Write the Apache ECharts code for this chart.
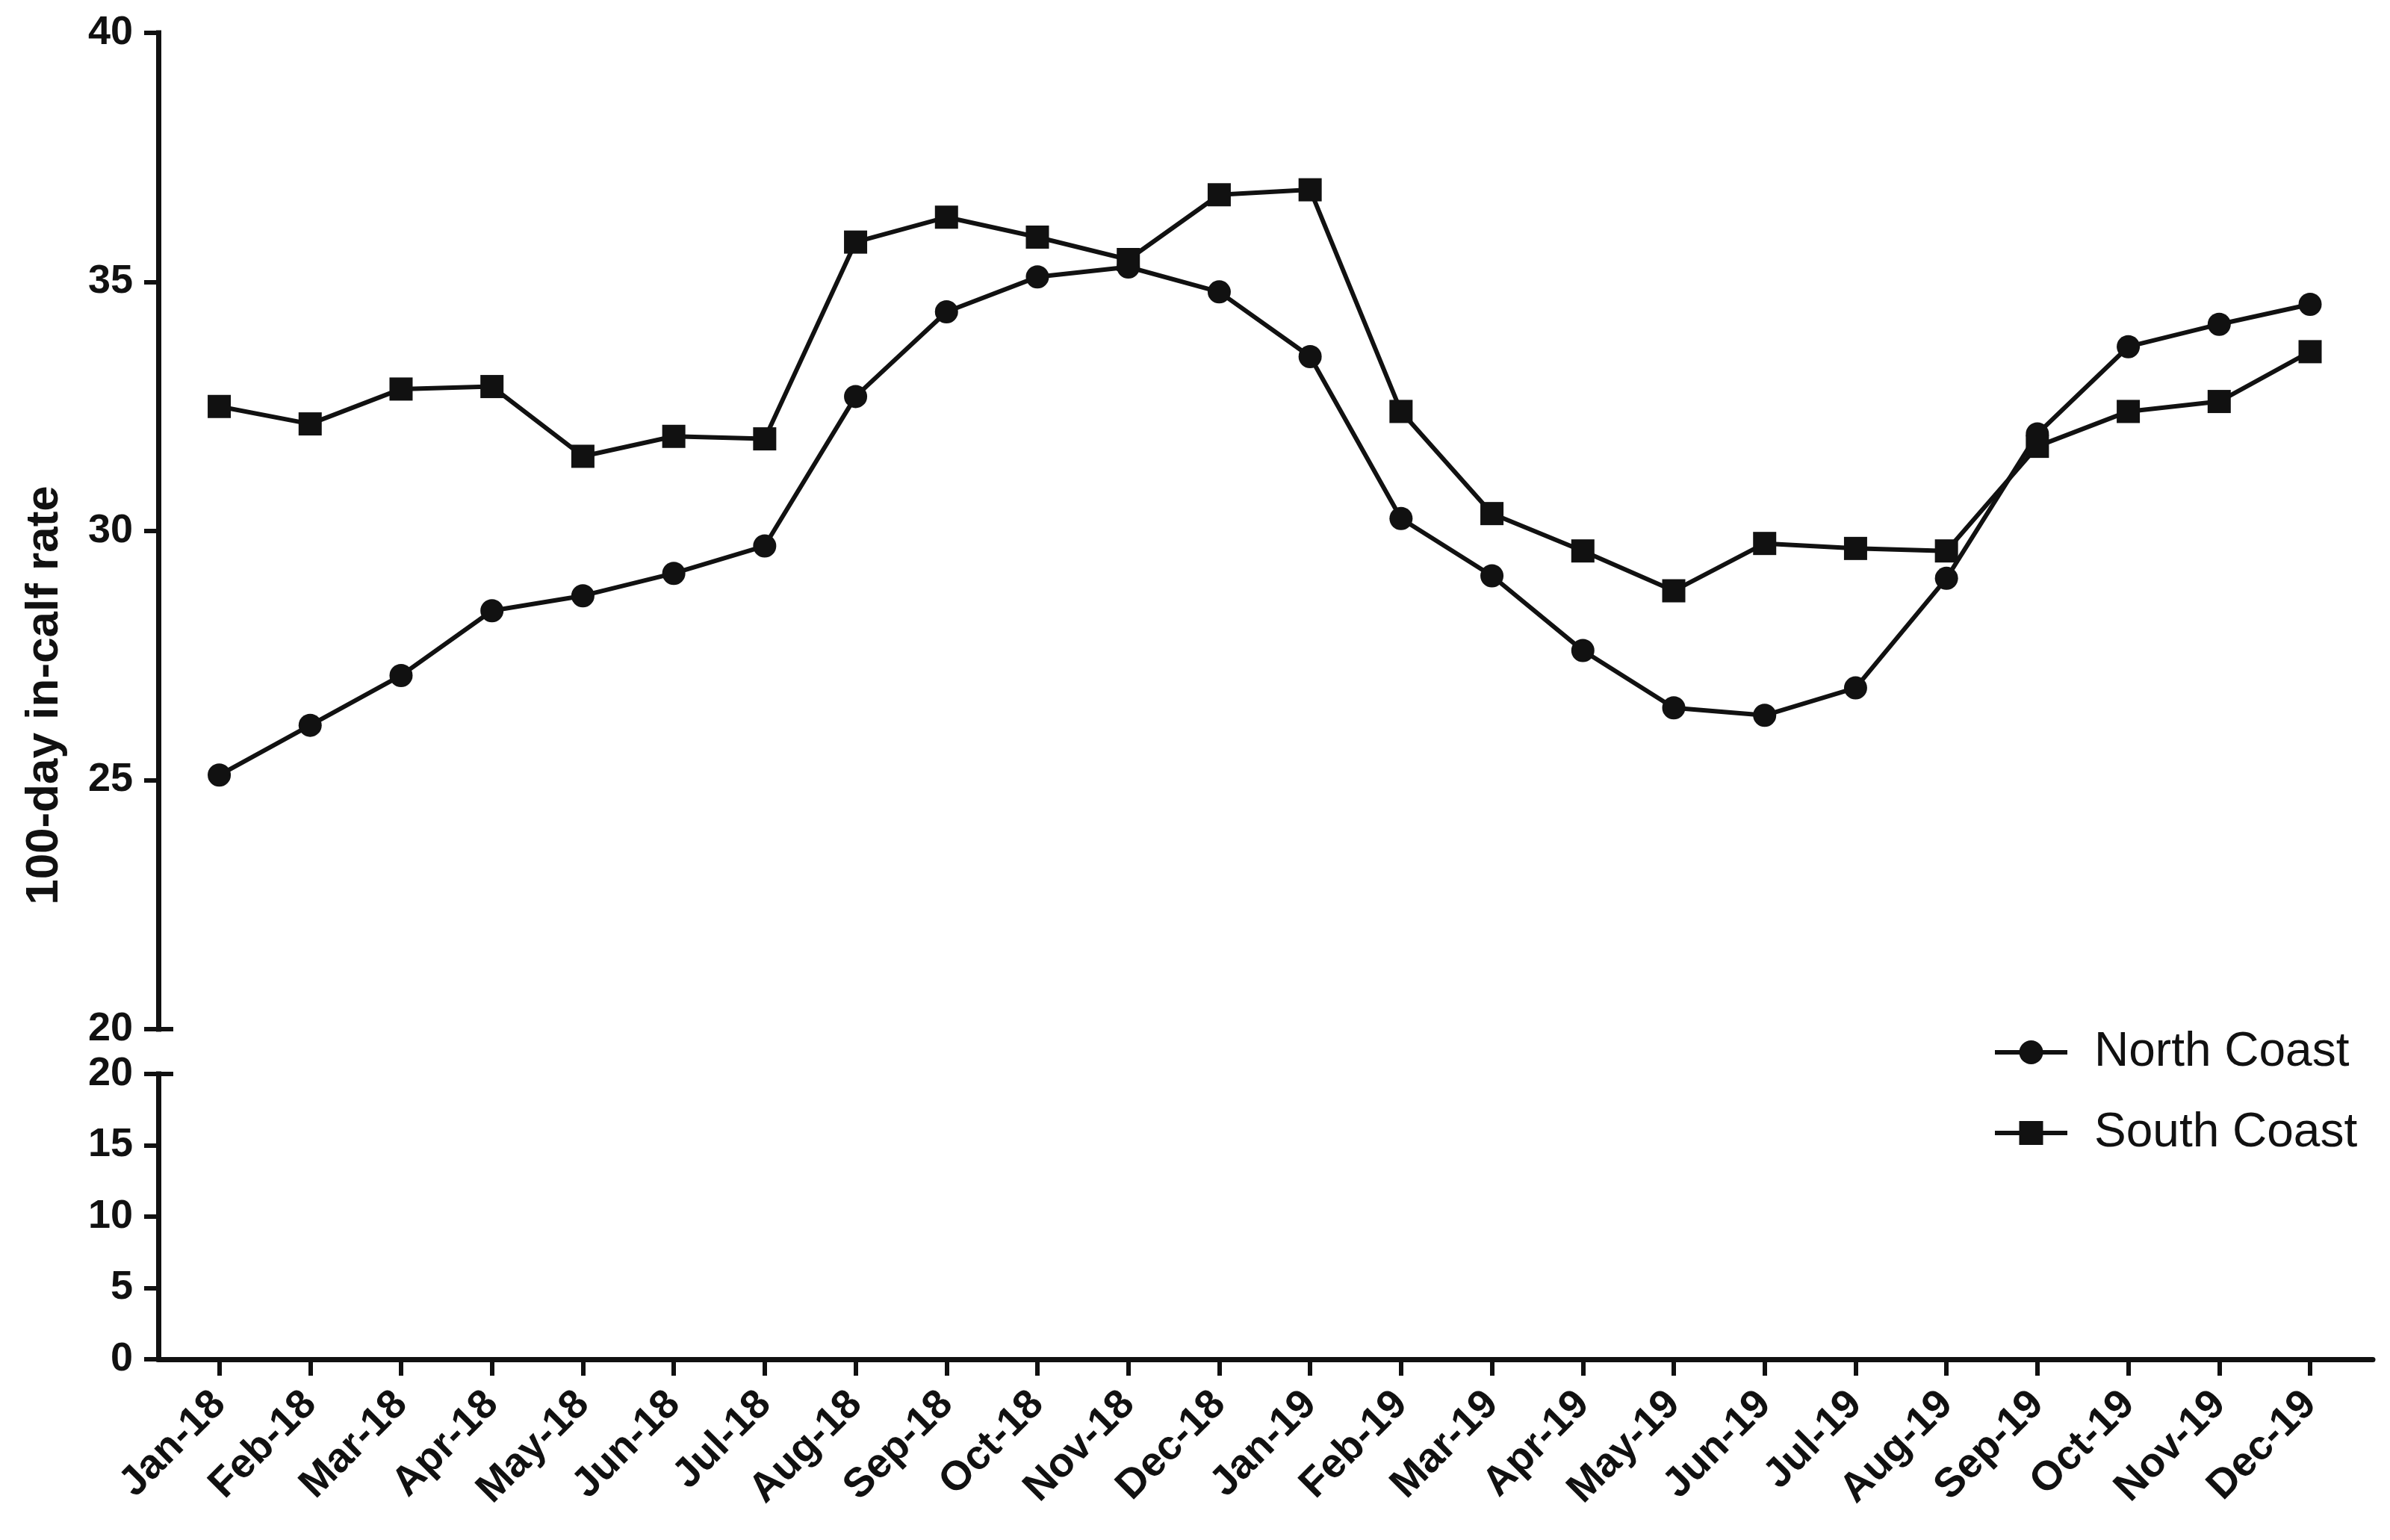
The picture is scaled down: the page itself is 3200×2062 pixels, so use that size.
<!DOCTYPE html>
<html>
<head>
<meta charset="utf-8">
<script src="https://cdn.jsdelivr.net/npm/echarts@6/dist/echarts.min.js"></script>
<style>
  html, body { margin: 0; padding: 0; background: #fff; }
  #chart { width: 3200px; height: 2062px; }
</style>
</head>
<body>
<div id="chart"></div>
<script>
const categories = ['Jan-18','Feb-18','Mar-18','Apr-18','May-18','Jun-18','Jul-18','Aug-18','Sep-18','Oct-18','Nov-18','Dec-18',
                    'Jan-19','Feb-19','Mar-19','Apr-19','May-19','Jun-19','Jul-19','Aug-19','Sep-19','Oct-19','Nov-19','Dec-19'];
const northCoast = [25.1, 26.1, 27.1, 28.4, 28.7, 29.15, 29.7, 32.7, 34.4, 35.1, 35.3, 34.8,
                    33.5, 30.25, 29.1, 27.6, 26.45, 26.3, 26.85, 29.05, 31.95, 33.7, 34.15, 34.55];
const southCoast = [32.5, 32.15, 32.85, 32.9, 31.5, 31.9, 31.85, 35.8, 36.3, 35.9, 35.45, 36.75,
                    36.85, 32.4, 30.35, 29.6, 28.8, 29.75, 29.65, 29.6, 31.7, 32.4, 32.6, 33.6];
const upperTicks = [20, 40, 5];   // min, max, step of upper segment
const lowerTicks = [0, 20, 5];    // min, max, step of lower segment
const seriesNames = ['North Coast', 'South Coast'];
const yAxisTitle = '100-day in-calf rate';

const FONT = '"Liberation Sans", Arial, Helvetica, sans-serif';
const INK = '#111';
const idx = categories.map((_, i) => i);
const xMin = -0.67, xMax = 23.69;

const chart = echarts.init(document.getElementById('chart'), null, { renderer: 'canvas' });

const yBase = (grid, r) => ({
  gridIndex: grid, type: 'value', min: r[0], max: r[1], interval: r[2], position: 'left',
  axisLine: { show: true, onZero: false, lineStyle: { color: INK, width: 7, cap: 'square' } },
  axisTick: { show: true, inside: false, length: 19, lineStyle: { color: INK, width: 6 } },
  axisLabel: { show: true, margin: 34, color: INK, fontSize: 54, fontWeight: 'bold', fontFamily: FONT },
  splitLine: { show: false }
});
const yBreak = (grid, r, v) => ({
  gridIndex: grid, type: 'value', min: r[0], max: r[1], position: 'left',
  axisLine: { show: false, onZero: false },
  axisTick: { show: true, inside: true, length: 20, customValues: [v], lineStyle: { color: INK, width: 6 } },
  axisLabel: { show: false },
  splitLine: { show: false }
});

const option = {
  animation: false,
  backgroundColor: '#fff',
  grid: [
    { left: 212, right: 23, top: 44, height: 1334 },
    { left: 212, right: 23, top: 1438, height: 382 }
  ],
  xAxis: [
    { gridIndex: 0, type: 'value', min: xMin, max: xMax, show: false, splitLine: { show: false } },
    { gridIndex: 1, type: 'value', min: xMin, max: xMax, position: 'bottom',
      axisLine: { show: true, onZero: false, lineStyle: { color: INK, width: 7 } },
      axisTick: { show: true, length: 22, customValues: idx, lineStyle: { color: INK, width: 6 } },
      axisLabel: { show: true, customValues: idx, rotate: 45, margin: 52, color: INK,
                   fontSize: 55, fontWeight: 'bold', fontFamily: FONT,
                   formatter: v => categories[Math.round(v)] || '' },
      splitLine: { show: false } }
  ],
  yAxis: [
    yBase(0, upperTicks),
    yBreak(0, upperTicks, upperTicks[0]),
    yBase(1, lowerTicks),
    yBreak(1, lowerTicks, lowerTicks[1])
  ],
  legend: {
    orient: 'vertical', left: 2663, top: 1372,
    itemWidth: 97, itemHeight: 40, itemGap: 44,
    data: seriesNames,
    lineStyle: { width: 6, color: INK },
    itemStyle: { color: INK },
    textStyle: { fontSize: 64, color: INK, fontFamily: FONT, padding: [0, 0, 0, 31] }
  },
  graphic: [{
    type: 'text', x: 60, y: 931, rotation: Math.PI / 2,
    style: { text: yAxisTitle, fill: INK, font: 'bold 62px ' + FONT, align: 'center', verticalAlign: 'middle' }
  }],
  series: [
    { name: seriesNames[0], type: 'line', xAxisIndex: 0, yAxisIndex: 0,
      data: northCoast.map((v, i) => [i, v]),
      symbol: 'circle', symbolSize: 31,
      lineStyle: { color: INK, width: 6 }, itemStyle: { color: INK } },
    { name: seriesNames[1], type: 'line', xAxisIndex: 0, yAxisIndex: 0,
      data: southCoast.map((v, i) => [i, v]),
      symbol: 'rect', symbolSize: 31,
      lineStyle: { color: INK, width: 6 }, itemStyle: { color: INK } }
  ]
};
chart.setOption(option);
</script>
</body>
</html>
